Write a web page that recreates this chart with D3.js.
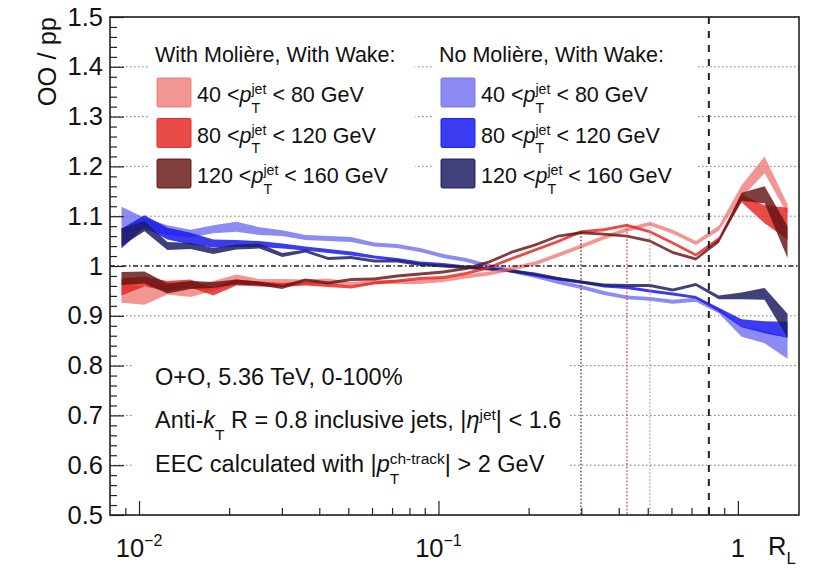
<!DOCTYPE html>
<html>
<head>
<meta charset="utf-8">
<script src="https://cdn.jsdelivr.net/npm/d3@7/dist/d3.min.js"></script>
<style>
  body { margin: 0; background: #fff; }
  svg text { font-family: "Liberation Sans", Arial, Helvetica, sans-serif; fill: #111; white-space: pre; }
</style>
</head>
<body>
<svg id="chart" width="818" height="570"></svg>
<script>
/* ---- data: bin centres in R_L and OO/pp ratio (centre, half-width) ---- */
const rL = [0.00874, 0.01043, 0.01244, 0.01485, 0.01771, 0.02114, 0.02522, 0.0301, 0.03591, 0.04285,
            0.05113, 0.06101, 0.0728, 0.08687, 0.1037, 0.1237, 0.1476, 0.1761, 0.2101, 0.2508,
            0.2992, 0.357, 0.426, 0.5083, 0.6066, 0.7238, 0.8636, 1.029, 1.228, 1.465];

// With Moliere, with wake
const molLow = [0.946, 0.94, 0.955, 0.948, 0.96, 0.975, 0.968, 0.968, 0.968, 0.97,
                0.964, 0.968, 0.968, 0.968, 0.972, 0.979, 0.985, 0.995, 1.005, 1.022,
                1.039, 1.057, 1.073, 1.085, 1.069, 1.046, 1.076, 1.15, 1.203, 1.114];
const molLowErr = [0.02, 0.018, 0.012, 0.01, 0.01, 0.008, 0.006, 0.006, 0.005, 0.005,
                   0.004, 0.004, 0.004, 0.004, 0.004, 0.004, 0.004, 0.004, 0.004, 0.004,
                   0.004, 0.004, 0.004, 0.004, 0.004, 0.004, 0.005, 0.012, 0.017, 0.01];
const molMid = [0.958, 0.969, 0.96, 0.965, 0.949, 0.967, 0.964, 0.962, 0.965, 0.962,
                0.958, 0.966, 0.97, 0.975, 0.977, 0.985, 0.997, 1.015, 1.032, 1.049,
                1.069, 1.073, 1.082, 1.069, 1.046, 1.022, 1.054, 1.136, 1.104, 1.085];
const molMidErr = [0.017, 0.01, 0.01, 0.008, 0.008, 0.006, 0.005, 0.004, 0.004, 0.004,
                   0.003, 0.003, 0.003, 0.003, 0.003, 0.003, 0.003, 0.003, 0.003, 0.003,
                   0.003, 0.003, 0.003, 0.003, 0.003, 0.003, 0.004, 0.008, 0.018, 0.032];
const molHigh = [0.975, 0.977, 0.955, 0.962, 0.962, 0.968, 0.965, 0.958, 0.972, 0.966,
                 0.973, 0.974, 0.98, 0.984, 0.988, 0.995, 1.008, 1.028, 1.042, 1.06,
                 1.067, 1.064, 1.06, 1.05, 1.027, 1.014, 1.05, 1.139, 1.143, 1.048];
const molHighErr = [0.013, 0.012, 0.01, 0.008, 0.006, 0.005, 0.004, 0.004, 0.003, 0.003,
                    0.003, 0.003, 0.003, 0.003, 0.003, 0.003, 0.003, 0.003, 0.003, 0.003,
                    0.003, 0.003, 0.003, 0.003, 0.003, 0.003, 0.004, 0.008, 0.017, 0.032];

// No Moliere, with wake
const noMolLow = [1.095, 1.085, 1.072, 1.065, 1.074, 1.079, 1.07, 1.066, 1.057, 1.055,
                  1.053, 1.043, 1.04, 1.032, 1.02, 1.012, 1.0, 0.99, 0.98, 0.968,
                  0.958, 0.946, 0.937, 0.934, 0.928, 0.932, 0.91, 0.868, 0.857, 0.836];
const noMolLowErr = [0.024, 0.012, 0.01, 0.008, 0.008, 0.01, 0.008, 0.006, 0.005, 0.005,
                     0.005, 0.004, 0.004, 0.004, 0.004, 0.004, 0.004, 0.004, 0.004, 0.004,
                     0.004, 0.004, 0.004, 0.004, 0.004, 0.004, 0.005, 0.01, 0.012, 0.022];
const noMolMid = [1.055, 1.09, 1.065, 1.055, 1.045, 1.045, 1.044, 1.04, 1.035, 1.03,
                  1.025, 1.018, 1.013, 1.006, 1.003, 0.998, 0.995, 0.99, 0.982, 0.974,
                  0.968, 0.96, 0.957, 0.95, 0.944, 0.937, 0.912, 0.885, 0.877, 0.872];
const noMolMidErr = [0.02, 0.012, 0.012, 0.012, 0.008, 0.007, 0.006, 0.005, 0.004, 0.004,
                     0.004, 0.003, 0.003, 0.003, 0.003, 0.003, 0.003, 0.003, 0.003, 0.003,
                     0.003, 0.003, 0.003, 0.003, 0.003, 0.003, 0.004, 0.008, 0.012, 0.016];
const noMolHigh = [1.058, 1.08, 1.04, 1.04, 1.03, 1.038, 1.04, 1.022, 1.03, 1.015,
                   1.017, 1.01, 1.01, 1.003, 1.0, 0.997, 0.994, 0.99, 0.984, 0.975,
                   0.968, 0.962, 0.961, 0.961, 0.952, 0.963, 0.937, 0.94, 0.944, 0.88];
const noMolHighErr = [0.018, 0.01, 0.008, 0.006, 0.006, 0.005, 0.005, 0.004, 0.003, 0.003,
                      0.003, 0.003, 0.003, 0.003, 0.003, 0.003, 0.003, 0.003, 0.003, 0.003,
                      0.003, 0.003, 0.003, 0.003, 0.003, 0.003, 0.004, 0.007, 0.012, 0.024];

const ptLow = ['40', '80', '120'];
const ptHigh = ['80 GeV', '120 GeV', '160 GeV'];
const jetR = 0.8;

const yMajor = [0.5, 0.6, 0.7, 0.8, 0.9, 1.0, 1.1, 1.2, 1.3, 1.4, 1.5];
const xMajor = [0.01, 0.1, 1];
const xMinor = [0.009, 0.02, 0.03, 0.04, 0.05, 0.06, 0.07, 0.08, 0.09,
                0.2, 0.3, 0.4, 0.5, 0.6, 0.7, 0.8, 0.9];

/* ---- series setup ---- */
const molSeries = [
  { c: molLow,  e: molLowErr,  fill: 'rgb(236,110,105)', op: 0.72 },
  { c: molMid,  e: molMidErr,  fill: 'rgb(228,35,30)',   op: 0.82 },
  { c: molHigh, e: molHighErr, fill: 'rgb(100,20,20)',   op: 0.82 }
];
const noMolSeries = [
  { c: noMolLow,  e: noMolLowErr,  fill: 'rgb(110,110,240)', op: 0.8 },
  { c: noMolMid,  e: noMolMidErr,  fill: 'rgb(25,25,240)',   op: 0.85 },
  { c: noMolHigh, e: noMolHighErr, fill: 'rgb(30,30,100)',   op: 0.85 }
];

const W = 818, H = 570;
const fr = { l: 110, r: 799, t: 17, b: 515 };
const FS_AXIS = 25.5, FS_LEG = 21.5, FS_ANN = 23.5;

const svg = d3.select('#chart');
svg.append('rect').attr('width', W).attr('height', H).attr('fill', '#fff');

const x = d3.scaleLog().domain([0.008, 1.6]).range([fr.l, fr.r]);
const y = d3.scaleLinear().domain([0.5, 1.5]).range([fr.b, fr.t]);

/* ---- grid ---- */
svg.append('g').selectAll('line')
  .data(yMajor.filter(v => Math.abs(v - 1) > 1e-6))
  .join('line')
  .attr('x1', fr.l).attr('x2', fr.r)
  .attr('y1', d => y(d)).attr('y2', d => y(d))
  .attr('stroke', '#777').attr('stroke-width', 1)
  .attr('stroke-dasharray', '1.5,2.5');

/* ---- white boxes behind legends and labels ---- */
const boxes = [[148, 28, 267, 168], [433, 28, 264, 168], [133, 338, 437, 150]];
svg.append('g').selectAll('rect').data(boxes).join('rect')
  .attr('x', d => d[0]).attr('y', d => d[1]).attr('width', d => d[2]).attr('height', d => d[3])
  .attr('fill', '#fff');

/* ---- bands ---- */
const area = d3.area()
  .x((d, i) => x(rL[i]))
  .y0(d => y(d[0] - d[1]))
  .y1(d => y(d[0] + d[1]));

const plot = svg.append('g');
[...noMolSeries, ...molSeries].forEach(s => {
  plot.append('path')
    .datum(s.c.map((v, i) => [v, s.e[i]]))
    .attr('d', area)
    .attr('fill', s.fill)
    .attr('fill-opacity', s.op)
    .attr('stroke', 'none');
});

/* ---- reference lines ---- */
svg.append('line')
  .attr('x1', fr.l).attr('x2', fr.r).attr('y1', y(1)).attr('y2', y(1))
  .attr('stroke', '#222').attr('stroke-width', 1.5)
  .attr('stroke-dasharray', '5,2.5,1.5,2.5');

// peak positions of the With-Moliere curves (below the jet radius)
molSeries.forEach(s => {
  let best = 0;
  rL.forEach((r, i) => { if (r < jetR && s.c[i] > s.c[best]) best = i; });
  svg.append('line')
    .attr('x1', x(rL[best])).attr('x2', x(rL[best]))
    .attr('y1', y(s.c[best])).attr('y2', fr.b)
    .attr('stroke', s.fill).attr('stroke-opacity', s.op)
    .attr('stroke-width', 1.5).attr('stroke-dasharray', '1.5,2');
});

svg.append('line')
  .attr('x1', x(jetR)).attr('x2', x(jetR)).attr('y1', fr.t).attr('y2', fr.b)
  .attr('stroke', '#222').attr('stroke-width', 2)
  .attr('stroke-dasharray', '7,7');

/* ---- axes ---- */
const yMinor = d3.range(25, 76).map(v => v / 50).filter(v => Math.abs(v * 10 - Math.round(v * 10)) > 1e-6);

const yAx = svg.append('g').attr('transform', `translate(${fr.l},0)`)
  .call(d3.axisLeft(y).tickValues(yMajor).tickSize(-14).tickPadding(7)
    .tickFormat(d => String(+d.toFixed(1))));
svg.append('g').attr('transform', `translate(${fr.l},0)`)
  .call(d3.axisLeft(y).tickValues(yMinor).tickSize(-7).tickFormat(''));

svg.append('g').attr('transform', `translate(0,${fr.b})`)
  .call(d3.axisBottom(x).tickValues(xMajor).tickSize(-14).tickFormat(''));
svg.append('g').attr('transform', `translate(0,${fr.b})`)
  .call(d3.axisBottom(x).tickValues(xMinor).tickSize(-7).tickFormat(''));

svg.selectAll('.domain').remove();
svg.selectAll('.tick line').attr('stroke', '#222').attr('stroke-width', 1.2);
yAx.selectAll('text').attr('font-size', FS_AXIS).attr('fill', '#111')
  .attr('font-family', '"Liberation Sans", Arial, Helvetica, sans-serif');

// x tick labels with exponents
const xl = svg.append('g');
xMajor.forEach(v => {
  const e = Math.round(Math.log10(v));
  const t = xl.append('text').attr('x', x(v)).attr('y', 557).attr('font-size', FS_AXIS)
    .attr('text-anchor', 'middle');
  if (e === 0) {
    t.text('1');
  } else {
    t.append('tspan').text('10');
    t.append('tspan').attr('dy', -11).attr('font-size', 16).text('\u2212' + Math.abs(e));
  }
});

/* ---- frame ---- */
svg.append('rect')
  .attr('x', fr.l).attr('y', fr.t).attr('width', fr.r - fr.l).attr('height', fr.b - fr.t)
  .attr('fill', 'none').attr('stroke', '#222').attr('stroke-width', 1.6);

/* ---- rich text helper: segments of plain / italic / sup-sub ---- */
function rich(g, x0, y0, segs, size, subDrop = 0.5) {
  let cx = x0;
  segs.forEach(s => {
    if (s.t != null) {
      const t = g.append('text').attr('x', cx).attr('y', y0).attr('font-size', size)
        .attr('font-style', s.it ? 'italic' : null).text(s.t);
      cx += t.node().getComputedTextLength();
    } else {
      let w = 0;
      if (s.sup) {
        const t = g.append('text').attr('x', cx).attr('y', y0 - size * 0.36)
          .attr('font-size', size * 0.66).text(s.sup);
        w = Math.max(w, t.node().getComputedTextLength());
      }
      if (s.sub) {
        const t = g.append('text').attr('x', cx).attr('y', y0 + size * subDrop)
          .attr('font-size', size * 0.66).text(s.sub);
        w = Math.max(w, t.node().getComputedTextLength());
      }
      cx += w;
    }
  });
  return cx;
}

/* ---- axis titles ---- */
svg.append('text').attr('transform', `translate(56,${fr.t}) rotate(-90)`)
  .attr('text-anchor', 'end').attr('font-size', FS_AXIS).text('OO / pp');
rich(svg.append('g'), 768, 555, [{ t: 'R' }, { sub: 'L' }], FS_AXIS, 0.36);

/* ---- legends ---- */
function legend(x0, head, series) {
  const g = svg.append('g');
  g.append('text').attr('x', x0).attr('y', 62).attr('font-size', FS_LEG).text(head);
  series.forEach((s, i) => {
    const yy = 102 + i * 40.5;
    g.append('rect').attr('x', x0 + 2).attr('y', yy - 24).attr('width', 34).attr('height', 29)
      .attr('rx', 1.5)
      .attr('fill', s.fill).attr('fill-opacity', s.op)
      .attr('stroke', s.fill).attr('stroke-opacity', Math.min(1, s.op + 0.1));
    rich(g, x0 + 42, yy, [
      { t: ptLow[i] + ' <' }, { t: 'p', it: true }, { sup: 'jet', sub: 'T' },
      { t: ' < ' + ptHigh[i] }
    ], FS_LEG);
  });
}
legend(155, 'With Moli\u00e8re, With Wake:', molSeries);
legend(439, 'No Moli\u00e8re, With Wake:', noMolSeries);

/* ---- annotation ---- */
const ann = svg.append('g');
rich(ann, 155, 385, [{ t: 'O+O, 5.36 TeV, 0-100%' }], FS_ANN);
rich(ann, 155, 428, [
  { t: 'Anti-' }, { t: 'k', it: true }, { sub: 'T' },
  { t: ' R = 0.8 inclusive jets, |' }, { t: '\u03b7', it: true }, { sup: 'jet' }, { t: '| < 1.6' }
], FS_ANN);
rich(ann, 155, 472, [
  { t: 'EEC calculated with |' }, { t: 'p', it: true }, { sup: 'ch-track', sub: 'T' }, { t: '| > 2 GeV' }
], FS_ANN);
</script>
</body>
</html>
